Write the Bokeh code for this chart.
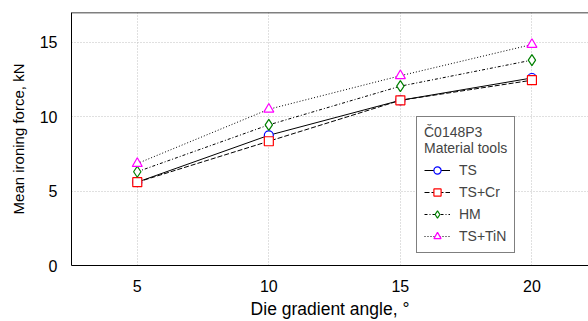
from bokeh.plotting import figure
from bokeh.models import Legend, LegendItem, Range1d, FixedTicker, Span
from bokeh.embed import file_html
from bokeh.resources import INLINE

angles = [5, 10, 15, 20]
ts = [5.6, 8.75, 11.1, 12.6]
ts_cr = [5.6, 8.35, 11.1, 12.45]
hm = [6.3, 9.45, 12.05, 13.8]
ts_tin = [6.85, 10.5, 12.75, 14.85]
x_ticks = [5, 10, 15, 20]
y_ticks = [0, 5, 10, 15]

FONT = "Liberation Sans"

p = figure(width=588, height=321, output_backend="svg", toolbar_location=None,
           x_range=Range1d(2.5, 22.15), y_range=Range1d(0, 17),
           min_border_left=71, min_border_right=0, min_border_top=12, min_border_bottom=55)
p.outline_line_color = None

for ax in (p.xaxis[0], p.yaxis[0]):
    ax.major_label_text_font = FONT
    ax.major_label_text_font_size = "16px"
    ax.major_label_text_color = "black"
    ax.axis_label_text_font = FONT
    ax.axis_label_text_font_style = "normal"
    ax.axis_label_text_color = "black"
    ax.major_tick_line_color = None
    ax.minor_tick_line_color = None
    ax.axis_line_color = "black"
p.xaxis.axis_label_text_font_size = "17.5px"
p.yaxis.axis_label_text_font_size = "15px"
p.xaxis.ticker = FixedTicker(ticks=x_ticks)
p.yaxis.ticker = FixedTicker(ticks=y_ticks)
p.xaxis.axis_label = "Die gradient angle, °"
p.yaxis.axis_label = "Mean ironing force, kN"
p.xaxis.major_label_standoff = 8
p.yaxis.major_label_standoff = 8
p.xaxis.axis_label_standoff = 4
p.yaxis.axis_label_standoff = 10

for g in (p.xgrid[0], p.ygrid[0]):
    g.grid_line_color = "#c0c0c0"
    g.grid_line_dash = "1 2"
    g.grid_line_width = 1

p.add_layout(Span(location=17, dimension="width", line_color="black", line_width=1.5))

series = [
    ("TS", ts, "solid", "circle", "blue", 9),
    ("TS+Cr", ts_cr, "5 2", "square", "red", 9),
    ("HM", hm, "3 2 1 2", "diamond", "green", 11),
    ("TS+TiN", ts_tin, "1 2", "triangle", "magenta", 10),
]
items = []
for name, vals, dash, marker, color, size in series:
    ln = p.line(angles, vals, line_color="black", line_dash=dash, line_width=1)
    sc = p.scatter(angles, vals, marker=marker, size=size, fill_color="white",
                   line_color=color, line_width=1.2)
    items.append(LegendItem(label=name, renderers=[ln, sc]))

legend = Legend(items=items, location=(345, 12), title="Č0148P3\nMaterial tools")
legend.title_text_font = FONT
legend.title_text_font_size = "14px"
legend.title_text_font_style = "normal"
legend.title_text_line_height = 1.35
legend.title_standoff = 5
legend.label_text_font = FONT
legend.label_text_font_size = "14px"
legend.label_standoff = 9
legend.border_line_color = "black"
legend.border_line_width = 1.5
legend.background_fill_alpha = 1
legend.glyph_width = 26
legend.glyph_height = 18
legend.label_height = 18
legend.spacing = 4
legend.padding = 7
legend.margin = 0
p.add_layout(legend, "center")

open("out.html", "w").write(file_html(p, INLINE))
